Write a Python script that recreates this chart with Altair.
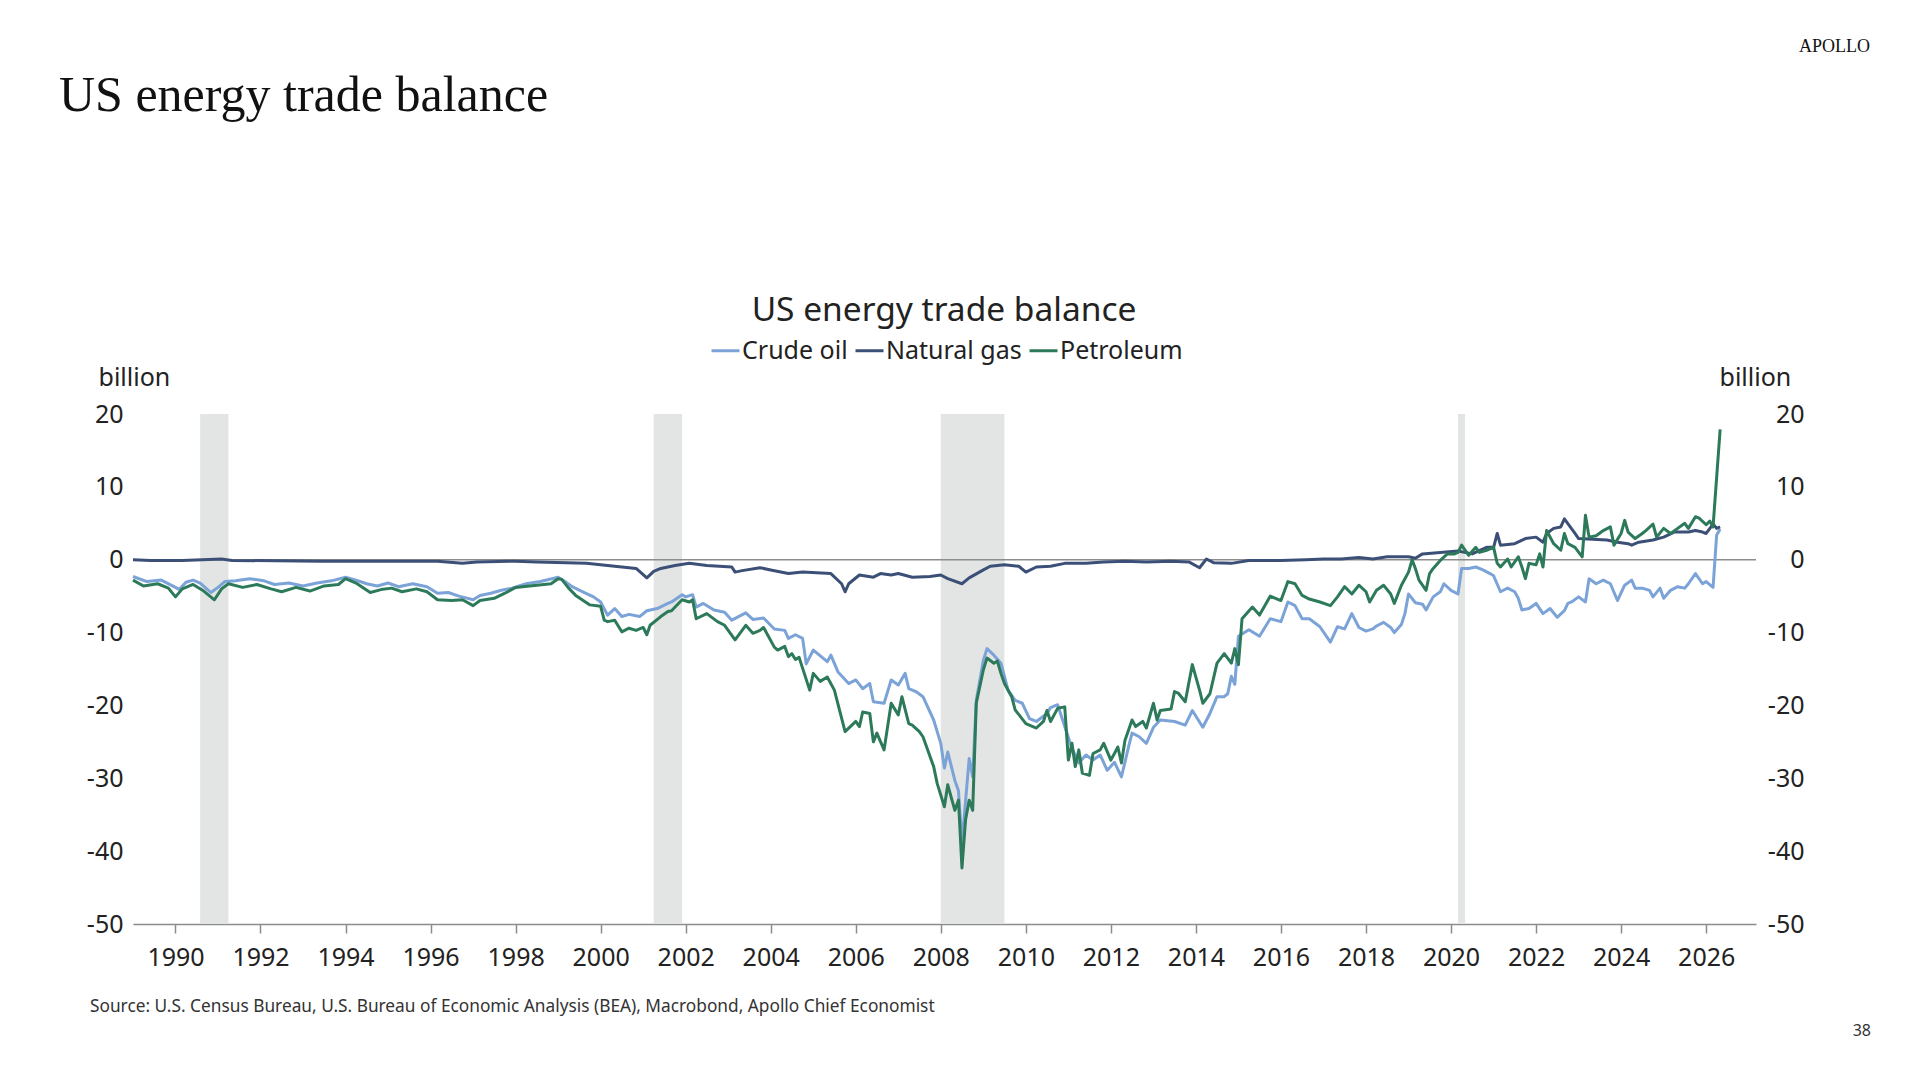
import altair as alt
import pandas as pd

# US energy trade balance, USD billion, monthly
crude_oil = [
    ("1989-01", -2.3), ("1989-05", -3.0), ("1989-09", -2.8), ("1990-01", -3.8), ("1990-02", -4.1),
    ("1990-04", -3.1), ("1990-06", -2.8), ("1990-08", -3.2), ("1990-11", -4.5), ("1991-01", -3.8),
    ("1991-03", -3.0), ("1991-06", -2.9), ("1991-10", -2.6), ("1992-02", -2.9), ("1992-05", -3.4),
    ("1992-09", -3.2), ("1993-01", -3.6), ("1993-05", -3.2), ("1993-09", -2.9), ("1994-01", -2.4),
    ("1994-04", -2.8), ("1994-07", -3.3), ("1994-10", -3.6), ("1995-01", -3.2), ("1995-04", -3.7),
    ("1995-08", -3.3), ("1995-12", -3.7), ("1996-03", -4.6), ("1996-06", -4.5), ("1996-09", -5.0),
    ("1997-01", -5.5), ("1997-03", -4.9), ("1997-06", -4.6), ("1997-09", -4.2), ("1997-12", -3.9),
    ("1998-04", -3.3), ("1998-08", -3.0), ("1999-01", -2.4), ("1999-03", -3.0), ("1999-05", -3.7),
    ("1999-08", -4.4), ("1999-11", -5.1), ("2000-01", -5.8), ("2000-03", -7.6), ("2000-05", -6.7),
    ("2000-07", -7.8), ("2000-09", -7.5), ("2000-12", -7.8), ("2001-02", -7.0), ("2001-05", -6.7),
    ("2001-08", -6.0), ("2001-09", -5.8), ("2001-12", -4.8), ("2002-01", -5.1), ("2002-03", -4.8),
    ("2002-04", -6.5), ("2002-06", -6.0), ("2002-09", -6.9), ("2002-12", -7.2), ("2003-02", -8.3),
    ("2003-06", -7.3), ("2003-08", -8.2), ("2003-11", -8.0), ("2004-02", -9.5), ("2004-05", -9.7),
    ("2004-06", -10.8), ("2004-08", -10.3), ("2004-10", -10.8), ("2004-11", -14.3), ("2005-01", -12.4),
    ("2005-05", -14.0), ("2005-06", -13.1), ("2005-08", -15.4), ("2005-11", -17.0), ("2006-01", -16.5),
    ("2006-03", -17.7), ("2006-05", -17.0), ("2006-06", -19.5), ("2006-09", -19.7), ("2006-11", -16.5),
    ("2007-01", -17.2), ("2007-03", -15.6), ("2007-04", -17.7), ("2007-06", -18.1), ("2007-08", -18.8),
    ("2007-11", -22.0), ("2008-01", -25.2), ("2008-02", -28.6), ("2008-03", -26.4), ("2008-05", -30.3),
    ("2008-06", -31.7), ("2008-07", -38.9), ("2008-09", -27.3), ("2008-10", -29.8), ("2008-11", -19.3),
    ("2009-01", -13.8), ("2009-02", -12.2), ("2009-04", -13.1), ("2009-06", -14.2), ("2009-08", -17.9),
    ("2009-10", -19.3), ("2009-12", -19.7), ("2010-02", -21.8), ("2010-04", -22.2), ("2010-07", -21.1),
    ("2010-08", -20.3), ("2010-10", -19.9), ("2010-12", -22.9), ("2011-02", -25.9), ("2011-04", -27.9),
    ("2011-06", -26.8), ("2011-08", -27.5), ("2011-10", -26.8), ("2011-12", -28.9), ("2012-02", -27.8),
    ("2012-04", -29.8), ("2012-06", -25.7), ("2012-07", -23.8), ("2012-09", -24.3), ("2012-11", -25.2),
    ("2013-01", -23.0), ("2013-03", -22.0), ("2013-07", -22.2), ("2013-10", -22.7), ("2013-12", -20.7),
    ("2014-03", -23.0), ("2014-05", -21.1), ("2014-07", -18.8), ("2014-09", -18.8), ("2014-10", -18.4),
    ("2014-11", -16.0), ("2014-12", -17.1), ("2015-01", -10.5), ("2015-04", -9.6), ("2015-07", -10.5),
    ("2015-10", -8.1), ("2016-01", -8.5), ("2016-03", -5.8), ("2016-05", -6.3), ("2016-07", -8.1),
    ("2016-09", -8.1), ("2016-12", -9.2), ("2017-03", -11.3), ("2017-05", -9.2), ("2017-07", -9.5),
    ("2017-09", -7.4), ("2017-11", -9.3), ("2018-01", -9.8), ("2018-03", -9.5), ("2018-04", -9.1),
    ("2018-06", -8.6), ("2018-08", -9.3), ("2018-09", -10.0), ("2018-11", -8.9), ("2018-12", -7.4),
    ("2019-01", -4.7), ("2019-03", -5.9), ("2019-05", -6.1), ("2019-06", -6.9), ("2019-08", -5.1),
    ("2019-10", -4.4), ("2019-11", -3.3), ("2020-01", -4.2), ("2020-03", -4.7), ("2020-04", -1.2),
    ("2020-06", -1.2), ("2020-08", -1.0), ("2020-10", -1.4), ("2020-12", -1.9), ("2021-01", -2.2),
    ("2021-03", -4.4), ("2021-05", -3.9), ("2021-07", -4.4), ("2021-08", -5.3), ("2021-09", -6.9),
    ("2021-11", -6.7), ("2022-01", -6.0), ("2022-03", -7.4), ("2022-05", -6.7), ("2022-07", -7.9),
    ("2022-09", -7.0), ("2022-10", -6.0), ("2022-11", -5.8), ("2023-01", -5.1), ("2023-03", -5.8),
    ("2023-04", -2.6), ("2023-06", -3.3), ("2023-08", -2.8), ("2023-10", -3.3), ("2023-12", -5.6),
    ("2024-02", -3.5), ("2024-04", -2.8), ("2024-05", -3.9), ("2024-07", -3.9), ("2024-09", -4.2),
    ("2024-10", -5.1), ("2024-12", -3.9), ("2025-01", -5.3), ("2025-03", -4.2), ("2025-05", -3.7),
    ("2025-07", -3.9), ("2025-08", -3.3), ("2025-10", -1.9), ("2025-12", -3.3), ("2026-01", -3.0),
    ("2026-03", -3.8), ("2026-04", 3.4), ("2026-05", 4.2),
]

natural_gas = [
    ("1989-01", 0.0), ("1989-06", -0.1), ("1990-03", -0.1), ("1991-02", 0.1), ("1991-05", -0.1),
    ("1993-06", -0.2), ("1996-03", -0.2), ("1996-10", -0.5), ("1997-02", -0.3), ("1998-01", -0.2),
    ("1998-07", -0.3), ("1999-09", -0.5), ("2000-05", -0.9), ("2000-11", -1.2), ("2001-02", -2.5),
    ("2001-04", -1.6), ("2001-06", -1.2), ("2001-10", -0.8), ("2002-02", -0.5), ("2002-07", -0.8),
    ("2003-02", -1.0), ("2003-03", -1.7), ("2003-05", -1.5), ("2003-10", -1.1), ("2004-01", -1.4),
    ("2004-06", -1.9), ("2004-10", -1.7), ("2005-06", -1.9), ("2005-09", -3.3), ("2005-10", -4.4),
    ("2005-11", -3.3), ("2006-02", -2.1), ("2006-06", -2.4), ("2006-08", -1.9), ("2006-11", -2.1),
    ("2007-01", -1.9), ("2007-05", -2.4), ("2007-10", -2.3), ("2008-01", -2.1), ("2008-03", -2.6),
    ("2008-07", -3.3), ("2008-09", -2.5), ("2009-01", -1.4), ("2009-03", -0.9), ("2009-07", -0.7),
    ("2009-11", -0.9), ("2010-01", -1.7), ("2010-04", -1.0), ("2010-08", -0.9), ("2010-12", -0.5),
    ("2011-06", -0.5), ("2011-11", -0.3), ("2012-05", -0.2), ("2012-11", -0.3), ("2013-06", -0.2),
    ("2013-11", -0.3), ("2014-02", -1.1), ("2014-04", 0.1), ("2014-06", -0.4), ("2014-11", -0.5),
    ("2015-04", -0.1), ("2016-01", -0.1), ("2016-08", 0.0), ("2017-01", 0.1), ("2017-06", 0.1),
    ("2017-11", 0.3), ("2018-03", 0.1), ("2018-07", 0.4), ("2019-01", 0.4), ("2019-03", 0.2),
    ("2019-05", 0.8), ("2019-10", 1.0), ("2020-03", 1.2), ("2020-07", 0.8), ("2020-11", 1.7),
    ("2021-01", 1.7), ("2021-02", 3.6), ("2021-03", 2.0), ("2021-07", 2.2), ("2021-10", 2.9),
    ("2022-01", 3.1), ("2022-03", 2.4), ("2022-04", 3.6), ("2022-06", 4.3), ("2022-08", 4.5),
    ("2022-09", 5.6), ("2022-12", 3.6), ("2023-01", 2.9), ("2023-05", 2.8), ("2023-09", 2.7),
    ("2023-12", 2.4), ("2024-03", 2.2), ("2024-04", 2.0), ("2024-06", 2.4), ("2024-10", 2.7),
    ("2025-01", 3.1), ("2025-04", 3.8), ("2025-08", 3.8), ("2025-10", 4.0), ("2025-12", 3.8),
    ("2026-01", 3.6), ("2026-03", 4.9), ("2026-04", 4.3), ("2026-05", 4.5),
]

petroleum = [
    ("1989-01", -2.8), ("1989-04", -3.6), ("1989-08", -3.3), ("1989-11", -3.9), ("1990-01", -5.1),
    ("1990-03", -4.0), ("1990-06", -3.4), ("1990-09", -4.3), ("1990-12", -5.5), ("1991-02", -4.0),
    ("1991-04", -3.3), ("1991-08", -3.8), ("1991-12", -3.4), ("1992-04", -4.0), ("1992-07", -4.4),
    ("1992-11", -3.8), ("1993-03", -4.3), ("1993-07", -3.6), ("1993-11", -3.4), ("1994-01", -2.6),
    ("1994-04", -3.2), ("1994-08", -4.5), ("1994-11", -4.1), ("1995-02", -3.9), ("1995-05", -4.4),
    ("1995-09", -4.0), ("1995-12", -4.4), ("1996-03", -5.5), ("1996-07", -5.6), ("1996-10", -5.5),
    ("1997-01", -6.3), ("1997-03", -5.6), ("1997-07", -5.3), ("1997-10", -4.6), ("1998-01", -3.8),
    ("1998-05", -3.6), ("1998-09", -3.4), ("1998-11", -3.3), ("1999-01", -2.6), ("1999-02", -2.7),
    ("1999-04", -3.9), ("1999-06", -4.9), ("1999-10", -6.2), ("2000-01", -6.4), ("2000-02", -8.3),
    ("2000-03", -8.5), ("2000-05", -8.3), ("2000-07", -9.9), ("2000-09", -9.4), ("2000-11", -9.7),
    ("2001-01", -9.3), ("2001-02", -10.3), ("2001-03", -9.0), ("2001-06", -7.8), ("2001-08", -7.1),
    ("2001-09", -7.0), ("2001-12", -5.5), ("2002-02", -5.8), ("2002-03", -5.5), ("2002-04", -8.1),
    ("2002-07", -7.4), ("2002-10", -8.5), ("2002-12", -9.0), ("2003-03", -11.0), ("2003-06", -9.0),
    ("2003-08", -10.1), ("2003-10", -9.7), ("2003-11", -9.3), ("2004-02", -12.0), ("2004-03", -12.4),
    ("2004-05", -11.9), ("2004-06", -13.3), ("2004-07", -12.9), ("2004-08", -13.7), ("2004-09", -13.4),
    ("2004-12", -17.9), ("2005-01", -15.6), ("2005-03", -16.7), ("2005-05", -16.1), ("2005-07", -17.9),
    ("2005-10", -23.6), ("2006-01", -22.2), ("2006-02", -22.9), ("2006-03", -20.9), ("2006-05", -21.1),
    ("2006-06", -25.0), ("2006-07", -23.8), ("2006-09", -26.1), ("2006-11", -19.7), ("2007-01", -21.3),
    ("2007-02", -18.8), ("2007-04", -22.5), ("2007-05", -22.7), ("2007-07", -23.6), ("2007-08", -24.3),
    ("2007-11", -28.4), ("2007-12", -30.7), ("2008-02", -33.9), ("2008-03", -30.9), ("2008-05", -34.4),
    ("2008-06", -33.0), ("2008-07", -42.3), ("2008-08", -35.7), ("2008-09", -33.0), ("2008-10", -34.4),
    ("2008-11", -19.7), ("2009-01", -15.1), ("2009-02", -13.5), ("2009-04", -14.2), ("2009-05", -13.9),
    ("2009-06", -15.6), ("2009-07", -17.0), ("2009-09", -18.8), ("2009-10", -20.6), ("2010-01", -22.5),
    ("2010-04", -23.1), ("2010-06", -22.2), ("2010-07", -20.7), ("2010-08", -22.2), ("2010-10", -20.4),
    ("2010-12", -20.2), ("2011-01", -27.5), ("2011-02", -25.2), ("2011-03", -28.4), ("2011-04", -26.1),
    ("2011-05", -29.3), ("2011-07", -29.6), ("2011-08", -26.6), ("2011-10", -26.1), ("2011-11", -25.2),
    ("2012-01", -27.5), ("2012-02", -26.6), ("2012-03", -25.7), ("2012-04", -27.9), ("2012-05", -24.8),
    ("2012-07", -22.0), ("2012-08", -22.9), ("2012-10", -22.2), ("2012-11", -23.1), ("2013-01", -19.7),
    ("2013-02", -22.0), ("2013-03", -20.7), ("2013-06", -20.5), ("2013-07", -18.1), ("2013-08", -18.3),
    ("2013-10", -19.5), ("2013-12", -14.4), ("2014-02", -17.9), ("2014-03", -19.7), ("2014-05", -18.4),
    ("2014-07", -14.2), ("2014-09", -12.9), ("2014-11", -14.2), ("2014-12", -12.2), ("2015-01", -14.4),
    ("2015-02", -8.1), ("2015-05", -6.5), ("2015-07", -7.6), ("2015-10", -5.0), ("2016-01", -5.6),
    ("2016-03", -3.0), ("2016-05", -3.3), ("2016-07", -4.9), ("2016-09", -5.4), ("2016-12", -5.8),
    ("2017-03", -6.3), ("2017-05", -5.1), ("2017-07", -3.7), ("2017-09", -4.7), ("2017-11", -3.5),
    ("2018-01", -4.4), ("2018-02", -5.8), ("2018-04", -4.2), ("2018-06", -3.5), ("2018-08", -4.7),
    ("2018-09", -6.0), ("2018-11", -3.5), ("2019-01", -1.7), ("2019-02", 0.0), ("2019-03", -1.2),
    ("2019-04", -2.8), ("2019-06", -4.2), ("2019-07", -1.9), ("2019-08", -1.2), ("2019-10", -0.1),
    ("2019-12", 0.8), ("2020-02", 0.8), ("2020-03", 1.0), ("2020-04", 2.0), ("2020-06", 0.6),
    ("2020-08", 1.7), ("2020-09", 1.0), ("2020-11", 1.3), ("2021-01", 1.7), ("2021-02", -0.5),
    ("2021-03", -1.0), ("2021-05", 0.1), ("2021-06", -1.0), ("2021-08", 0.4), ("2021-09", -1.0),
    ("2021-10", -2.6), ("2021-11", -0.5), ("2022-01", -0.7), ("2022-02", 0.8), ("2022-03", -1.0),
    ("2022-04", 4.0), ("2022-06", 2.2), ("2022-08", 1.3), ("2022-09", 3.6), ("2022-10", 2.2),
    ("2022-12", 1.7), ("2023-02", 0.4), ("2023-03", 6.1), ("2023-04", 3.1), ("2023-06", 3.3),
    ("2023-08", 4.0), ("2023-10", 4.5), ("2023-11", 2.0), ("2024-01", 3.6), ("2024-02", 5.4),
    ("2024-03", 3.8), ("2024-05", 2.9), ("2024-07", 3.6), ("2024-08", 4.0), ("2024-10", 4.9),
    ("2024-11", 3.1), ("2025-01", 4.3), ("2025-03", 3.6), ("2025-05", 4.3), ("2025-07", 5.0),
    ("2025-08", 4.3), ("2025-10", 5.9), ("2025-11", 5.7), ("2026-01", 4.8), ("2026-02", 5.3),
    ("2026-03", 4.5), ("2026-05", 17.9),
]

series_names = ["Crude oil", "Natural gas", "Petroleum"]
series_colors = ["#7ba3d8", "#3c5077", "#2c7a5a"]

# NBER recessions (shaded)
recession_start = ["1990-08", "2001-04", "2008-01", "2020-03"]
recession_end = ["1991-04", "2001-12", "2009-07", "2020-05"]

year_ticks = list(range(1990, 2027, 2))
value_ticks = [20, 10, 0, -10, -20, -30, -40, -50]

FONT = "Noto Sans"
INK = "#222222"

frames = []
for name, rows in zip(series_names, [crude_oil, natural_gas, petroleum]):
    part = pd.DataFrame(rows, columns=["month", "value"])
    part["series"] = name
    frames.append(part)
lines_df = pd.concat(frames, ignore_index=True)

rec_df = pd.DataFrame({"start": recession_start, "end": recession_end})

x_scale = alt.Scale(domain=[alt.DateTime(year=1989, month=1, date=1),
                            alt.DateTime(year=2027, month=3, date=5)])
y_scale = alt.Scale(domain=[-50, 20], nice=False, zero=False)

x_axis = alt.Axis(
    values=[alt.DateTime(year=y, month=1, date=1) for y in year_ticks],
    format="%Y", grid=False, domainColor="#8c8c8c", domainWidth=1.5,
    tickColor="#8c8c8c", tickWidth=1.5, tickSize=9, labelPadding=12,
    labelFont=FONT, labelFontSize=25, labelColor=INK, labelFlush=False,
    labelOverlap=False,
)


def y_axis(side, title_x, pad, align):
    # plain hyphen for negatives, as in the original
    return alt.Axis(
        orient=side, values=value_ticks, grid=False, domain=False, ticks=False,
        labelExpr="'' + datum.value",
        labelPadding=pad, labelAlign=align, labelBaseline="middle",
        labelFont=FONT, labelFontSize=25, labelColor=INK,
        title="billion", titleAngle=0, titleAlign="left", titleBaseline="alphabetic",
        titleX=title_x, titleY=-29, titleFont=FONT, titleFontSize=25,
        titleFontWeight="normal", titleColor=INK,
    )


shading = alt.Chart(rec_df).mark_rect(color="#e3e5e4").encode(
    x=alt.X("start:T", scale=x_scale, axis=x_axis, title=None),
    x2="end:T",
)

lines = alt.Chart(lines_df).mark_line(strokeWidth=3, strokeJoin="round").encode(
    x=alt.X("month:T", scale=x_scale, axis=x_axis, title=None),
    y=alt.Y("value:Q", scale=y_scale, axis=y_axis("left", -35, 10, "right"), title="billion"),
    color=alt.Color(
        "series:N",
        scale=alt.Scale(domain=series_names, range=series_colors),
        legend=alt.Legend(
            title=None, orient="none", legendX=577, legendY=-79, direction="horizontal",
            symbolType="stroke", symbolSize=784, symbolStrokeWidth=3,
            labelFont=FONT, labelFontSize=25, labelColor=INK, labelOffset=1,
            columnPadding=1, padding=0,
        ),
    ),
)

zero_line = alt.Chart(pd.DataFrame({"level": [0]})).mark_rule(
    color="#8c8c8c", strokeWidth=1.5
).encode(
    y=alt.Y("level:Q", scale=y_scale, axis=y_axis("right", -37, 48, "right"), title="billion"),
)


def note(text, x, y, size, font=FONT, align="left", color=INK):
    return alt.Chart(pd.DataFrame({"label": [text]})).mark_text(
        align=align, baseline="alphabetic", font=font, fontSize=size, color=color
    ).encode(x=alt.value(x), y=alt.value(y), text="label:N")


page_title = note("US energy trade balance", -74, -303, 50, font="Liberation Serif", color="#111111")
brand = note("APOLLO", 1737, -362, 18, font="Liberation Serif", align="right", color="#111111")
chart_title = note("US energy trade balance", 811, -93, 33.5, align="center")
source = note(
    "Source: U.S. Census Bureau, U.S. Bureau of Economic Analysis (BEA), Macrobond, Apollo Chief Economist",
    -43, 598, 17.3, color="#333333",
)
page_no = note("38", 1738, 622, 16, align="right", color="#333333")

chart = (
    alt.layer(shading, zero_line, lines, page_title, brand, chart_title, source, page_no)
    .resolve_axis(y="independent")
    .properties(
        width=1623,
        height=510,
        padding={"left": 125, "top": 406, "right": 140, "bottom": 120},
        autosize=alt.AutoSizeParams(type="none"),
        background="white",
    )
    .configure_view(stroke=None)
)

chart.save("out.html", embed_options={"renderer": "svg", "actions": False})
